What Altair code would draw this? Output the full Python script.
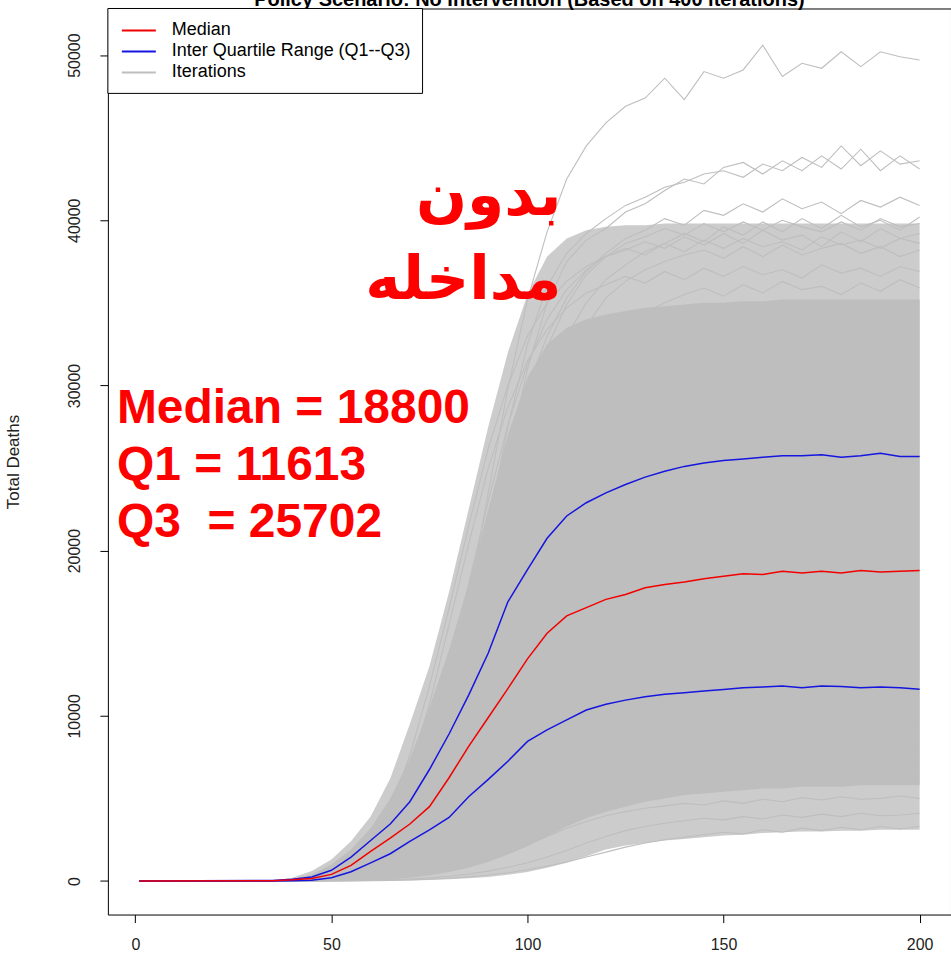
import altair as alt
import pandas as pd

# Time steps (days) at which every series is sampled
X_GRID = [1, 35, 40, 45, 50, 55, 60, 65, 70, 75, 80, 85, 90, 95, 100, 105, 110, 115, 120,
          125, 130, 135, 140, 145, 150, 155, 160, 165, 170, 175, 180, 185, 190, 195, 200]

# Summary statistics across the 400 iterations
MEDIAN = [0, 20, 70, 150, 400, 950, 1800, 2600, 3450, 4500, 6250, 8150, 9900, 11650, 13450,
          15000, 16050, 16550, 17050, 17350, 17750, 17950, 18100, 18300, 18450, 18600, 18550,
          18750, 18650, 18750, 18650, 18800, 18700, 18750, 18800]
Q1 = [0, 5, 20, 40, 200, 560, 1100, 1650, 2400, 3100, 3850, 5100, 6150, 7250, 8450, 9150,
      9750, 10350, 10700, 10950, 11150, 11300, 11400, 11500, 11600, 11700, 11750, 11800,
      11700, 11800, 11780, 11700, 11750, 11700, 11613]
Q3 = [0, 30, 110, 240, 650, 1450, 2450, 3450, 4800, 6750, 8900, 11250, 13800, 16900, 18850,
      20750, 22100, 22900, 23500, 24000, 24450, 24800, 25100, 25300, 25450, 25550, 25650,
      25750, 25750, 25800, 25650, 25750, 25900, 25700, 25702]

# Envelope of the bulk of the iterations (sparse outer zone and dense core)
OUTER_LOW = [0, 0, 0, 0, 0, 0, 0, 10, 30, 60, 100, 160, 250, 380, 550, 800, 1100, 1500,
             1900, 2150, 2300, 2450, 2550, 2650, 2750, 2800, 2900, 2950, 3000, 3000, 3050,
             3050, 3100, 3100, 3100]
OUTER_HIGH = [0, 20, 200, 600, 1300, 2400, 3900, 6200, 9500, 13000, 17500, 22500, 27500,
              32000, 35500, 37800, 38900, 39400, 39600, 39700, 39700, 39800, 39800, 39800,
              39800, 39800, 39800, 39800, 39800, 39800, 39800, 39800, 39800, 39800, 39800]
CORE_LOW = [0, 0, 0, 0, 0, 0, 40, 100, 200, 350, 550, 800, 1150, 1600, 2100, 2700, 3300,
            3800, 4200, 4500, 4800, 5000, 5200, 5300, 5400, 5500, 5600, 5600, 5700, 5700,
            5700, 5800, 5800, 5800, 5800]
CORE_HIGH = [0, 0, 80, 400, 1000, 1900, 3200, 5000, 7400, 10500, 14000, 18000, 22500, 27000,
             30500, 32500, 33500, 34000, 34300, 34500, 34700, 34800, 34900, 35000, 35000,
             35100, 35100, 35200, 35200, 35200, 35200, 35200, 35200, 35200, 35200]

# Individual iterations standing out at the edges of the bundle
ITERATIONS = {
    "run_a": [0, 0, 30, 100, 250, 600, 1300, 2500, 4500, 7500, 11500, 17000, 23500, 29800,
              35200, 39300, 42500, 44500, 45900, 46900, 47400, 48600, 47300, 49000, 48600,
              49100, 50600, 48700, 49500, 49200, 50200, 49300, 50200, 49900, 49700],
    "run_b": [0, 0, 20, 80, 200, 500, 1100, 2200, 4000, 6800, 10500, 15500, 21500, 27500,
              32500, 36000, 38000, 39200, 40100, 40900, 41400, 42000, 42300, 42800, 43000,
              42600, 43400, 43000, 43800, 43200, 44500, 43300, 44200, 43400, 43600],
    "run_c": [0, 0, 10, 50, 150, 400, 900, 1900, 3500, 6000, 9500, 14200, 19800, 25500,
              31000, 35000, 37500, 38800, 39500, 40500, 41000, 41800, 42500, 42200, 43200,
              43500, 42800, 43600, 43000, 43900, 43100, 44300, 43000, 43900, 43100],
    "run_d": [0, 0, 20, 80, 220, 550, 1200, 2400, 4300, 7200, 11000, 15800, 20800, 25700,
              29800, 33000, 35300, 36900, 38000, 38900, 39400, 40100, 39700, 40600, 40300,
              41000, 40500, 41300, 40700, 41100, 40400, 41200, 40800, 41400, 40900],
    "run_e": [0, 0, 10, 50, 150, 400, 900, 1800, 3300, 5700, 8800, 12800, 17500, 22400,
              26800, 30300, 33000, 35000, 36400, 37300, 38100, 38600, 39200, 38700, 39600,
              39100, 39900, 39300, 40100, 39500, 40300, 39600, 40000, 39400, 40200],
    "run_f": [0, 0, 30, 110, 300, 700, 1500, 2900, 5200, 8600, 13000, 18000, 23000, 27600,
              31300, 34000, 35800, 37000, 37800, 38200, 38700, 38300, 39000, 38500, 39200,
              38600, 39400, 38800, 39100, 38400, 39300, 38700, 39500, 38900, 39200],
    "run_g": [0, 0, 5, 30, 90, 250, 600, 1300, 2500, 4400, 7200, 10800, 15000, 19500,
              24000, 28000, 31200, 33600, 35300, 36300, 37000, 37500, 37900, 38200, 37700,
              38400, 37800, 38500, 37900, 38300, 38600, 38000, 38400, 37800, 38200],
    "run_h": [0, 0, 40, 150, 400, 950, 2000, 3800, 6700, 10700, 15500, 20400, 25000, 28700,
              31500, 33400, 34700, 35600, 36100, 36600, 36200, 36900, 36400, 37100, 36600,
              37200, 36700, 37000, 36500, 37300, 36800, 37100, 36600, 37200, 36900],
    "run_i": [0, 0, 0, 20, 60, 160, 400, 850, 1700, 3100, 5200, 8100, 11800, 16000, 20300,
              24300, 27700, 30300, 32200, 33500, 34400, 35000, 35500, 35900, 35400, 36100,
              35600, 36300, 35800, 36000, 35500, 36200, 35700, 36400, 35900],
    "run_j": [0, 10, 60, 220, 550, 1200, 2400, 4400, 7600, 11800, 16500, 21500, 26200,
              30000, 33000, 35000, 36300, 37200, 37800, 38300, 37900, 38600, 38100, 38800,
              38300, 38900, 38400, 38700, 38200, 39000, 38500, 38800, 38300, 38900, 38600],
    "run_k": [0, 0, 15, 70, 200, 500, 1100, 2200, 4000, 6600, 10000, 14300, 19200, 24200,
              28700, 32300, 34900, 36700, 37800, 38600, 39000, 39500, 39100, 39800, 39300,
              39900, 39400, 40000, 39600, 39300, 39900, 39400, 40100, 39600, 39800],
    "run_l": [0, 0, 0, 0, 0, 10, 20, 40, 70, 110, 170, 250, 360, 500, 680, 900, 1150, 1450,
              1750, 2050, 2300, 2500, 2650, 2800, 2950, 2850, 3100, 2950, 3200, 3050, 3250,
              3100, 3300, 3150, 3300],
    "run_m": [0, 0, 0, 0, 5, 15, 35, 70, 120, 190, 290, 420, 600, 830, 1100, 1450, 1850,
              2300, 2700, 3050, 3300, 3500, 3650, 3800, 3700, 3900, 3750, 4000, 3850, 4050,
              3900, 4100, 3950, 4000, 4100],
    "run_n": [0, 0, 0, 5, 15, 40, 80, 150, 260, 410, 620, 900, 1250, 1700, 2200, 2700,
              3200, 3600, 3950, 4200, 4400, 4550, 4700, 4600, 4850, 4700, 4950, 4800, 5050,
              4900, 5100, 4950, 5000, 5150, 5000],
    "run_o": [0, 0, 0, 10, 30, 70, 140, 260, 440, 700, 1050, 1500, 2050, 2650, 3250, 3850,
              4350, 4750, 5050, 5300, 5450, 5600, 5750, 5650, 5900, 5750, 6000, 5850, 6100,
              5900, 6050, 5950, 6150, 5900, 6050],
    "run_p": [0, 0, 5, 20, 60, 130, 250, 450, 750, 1150, 1700, 2350, 3050, 3800, 4500, 5100,
              5600, 6000, 6300, 6500, 6650, 6750, 6900, 6800, 7000, 6850, 7100, 6950, 7150,
              7000, 7100, 6900, 7150, 7050, 7000],
    "run_q": [0, 0, 0, 10, 40, 100, 200, 380, 650, 1050, 1600, 2300, 3100, 4000, 4900, 5700,
              6400, 6900, 7300, 7600, 7800, 7950, 8050, 8150, 8000, 8250, 8100, 8300, 8150,
              8350, 8200, 8300, 8100, 8350, 8200],
    "run_r": [0, 0, 10, 40, 100, 220, 420, 750, 1200, 1850, 2700, 3700, 4800, 5800, 6700,
              7400, 8000, 8400, 8750, 9000, 9150, 9300, 9200, 9400, 9300, 9550, 9400, 9600,
              9450, 9550, 9400, 9650, 9500, 9600, 9450],
}

X_TICKS = [0, 50, 100, 150, 200]
Y_TICKS = [0, 10000, 20000, 30000, 40000, 50000]

TITLE = "Policy Scenario: No Intervention (Based on 400 iterations)"
LEGEND_LABELS = ["Median", "Inter Quartile Range (Q1--Q3)", "Iterations"]
NOTE_FA = ["بدون", "مداخله"]
NOTE_STATS = ["Median = 18800", "Q1 = 11613", "Q3\u00a0 = 25702"]

GRAY = "#BEBEBE"
RED = "#F20000"
BLUE = "#1515E0"
LEGEND_COLORS = [RED, BLUE, GRAY]
FONT = "Liberation Sans"

W, H = 844, 907

bands = pd.DataFrame({"t": X_GRID, "outer_lo": OUTER_LOW, "outer_hi": OUTER_HIGH,
                      "core_lo": CORE_LOW, "core_hi": CORE_HIGH})
stats = pd.DataFrame({"t": X_GRID, "median": MEDIAN, "q1": Q1, "q3": Q3})
runs = pd.DataFrame([{"t": t, "deaths": v, "run": name}
                     for name, vals in ITERATIONS.items() for t, v in zip(X_GRID, vals)])
one = pd.DataFrame({"k": [0]})

x_scale = alt.Scale(domain=[-7, 208], nice=False, zero=False)
y_scale = alt.Scale(domain=[-2030, 52820], nice=False, zero=False)

x_axis = alt.Axis(values=X_TICKS, format="d", tickSize=8, labelPadding=14,
                  labelFontSize=16, labelOverlap=False, labelFlush=False)
y_axis = alt.Axis(values=Y_TICKS, format="d", tickSize=8, labelAngle=270,
                  labelAlign="center", labelBaseline="bottom", labelPadding=17,
                  labelFontSize=16, labelOverlap=False, labelFlush=False,
                  titleFontSize=17, titleFontWeight="normal",
                  titleAngle=270, titleAlign="center", titleBaseline="middle",
                  titleX=-94, titleY=H / 2)

# Every layer shares the same axis definition so that they merge into one
X = alt.X("t:Q", scale=x_scale, axis=x_axis, title=None)


def Y(field):
    return alt.Y(f"{field}:Q", scale=y_scale, axis=y_axis, title="Total Deaths")


outer = alt.Chart(bands).mark_area(color=GRAY, opacity=0.78).encode(
    x=X, y=Y("outer_lo"), y2="outer_hi:Q"
)
core = alt.Chart(bands).mark_area(color=GRAY).encode(
    x=X, y=Y("core_lo"), y2="core_hi:Q"
)
iter_lines = alt.Chart(runs).mark_line(color=GRAY, strokeWidth=1.1).encode(
    x=X, y=Y("deaths"), detail="run:N"
)


def stat_line(field, color):
    return alt.Chart(stats).mark_line(color=color, strokeWidth=1.5).encode(
        x=X, y=Y(field)
    )


layers = [outer, core, iter_lines,
          stat_line("q1", BLUE), stat_line("q3", BLUE), stat_line("median", RED)]

# Title, partly above the drawing area
layers.append(alt.Chart(one).mark_text(
    text=TITLE, font=FONT, fontSize=20, fontWeight="bold", align="center",
    baseline="alphabetic", color="black").encode(x=alt.value(W / 2), y=alt.value(-2)))

# Annotations
for i, txt in enumerate(NOTE_FA):
    layers.append(alt.Chart(one).mark_text(
        text=txt, font="DejaVu Sans", fontSize=60, fontWeight="bold", color="#FF0000",
        align="right", baseline="alphabetic").encode(
        x=alt.value(454), y=alt.value(207 + 84 * i)))
for i, txt in enumerate(NOTE_STATS):
    layers.append(alt.Chart(one).mark_text(
        text=txt, font=FONT, fontSize=48, fontWeight="bold", color="#FF0000",
        align="left", baseline="alphabetic").encode(
        x=alt.value(9), y=alt.value(415 + 57 * i)))

# Legend box
layers.append(alt.Chart(one).mark_rect(fill="white", stroke="black", strokeWidth=1).encode(
    x=alt.value(0), x2=alt.value(315), y=alt.value(0), y2=alt.value(85)))
for i, (label, color) in enumerate(zip(LEGEND_LABELS, LEGEND_COLORS)):
    yy = 22 + 21 * i
    layers.append(alt.Chart(one).mark_rule(color=color, strokeWidth=2).encode(
        x=alt.value(14), x2=alt.value(48), y=alt.value(yy)))
    layers.append(alt.Chart(one).mark_text(
        text=label, font=FONT, fontSize=18, align="left", baseline="middle",
        color="black").encode(x=alt.value(64), y=alt.value(yy)))

chart = alt.layer(*layers).properties(
    width=W, height=H,
    autosize=alt.AutoSizeParams(type="none"),
    padding={"left": 108, "top": 8, "right": 0, "bottom": 41},
    background="white",
).configure_view(stroke="black", strokeWidth=1).configure_axis(
    domain=False, grid=False, tickColor="black", labelColor="#222222",
    labelFont=FONT, titleFont=FONT, titleColor="#222222",
)

chart.save("out.html", embed_options={"renderer": "svg", "actions": False})
